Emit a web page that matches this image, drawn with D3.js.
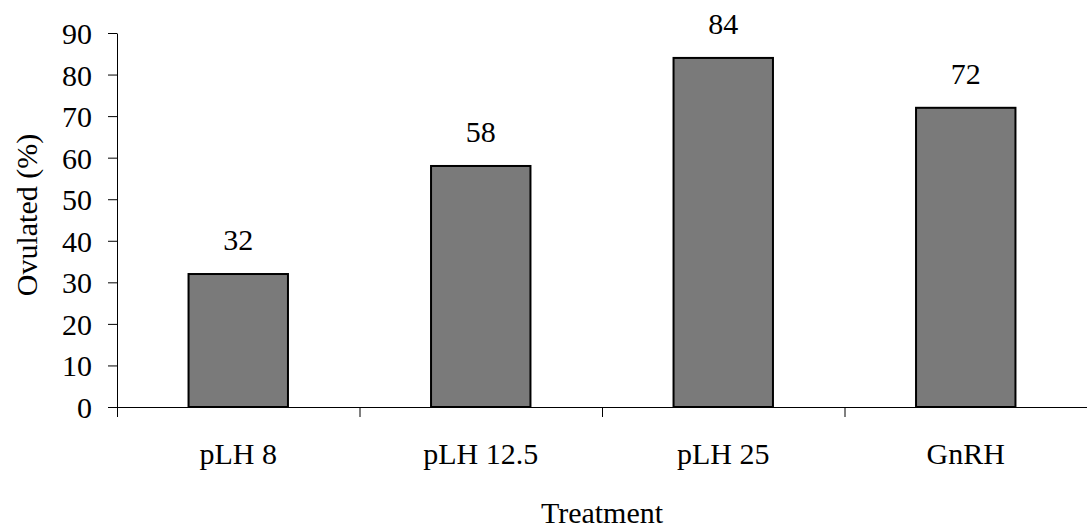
<!DOCTYPE html>
<html lang="en">
<head>
<meta charset="utf-8">
<title>Ovulated (%) by treatment</title>
<script src="https://cdn.jsdelivr.net/npm/d3@7"></script>
<style>
    body { margin: 0; background: #fff; }
    svg text { font-family: "Liberation Serif", "Times New Roman", serif; fill: #000; }
</style>
</head>
<body>
<div id="chart"></div>
<script>
// data
var categories = ["pLH 8", "pLH 12.5", "pLH 25", "GnRH"];
var ovulated = [32, 58, 84, 72];
var yTicks = [0, 10, 20, 30, 40, 50, 60, 70, 80, 90];

var w = 1087, h = 531;
var plotLeft = 117, plotRight = 1087, plotTop = 33, plotBottom = 407;
var serif = "'Liberation Serif', 'Times New Roman', serif";

var svg = d3.select("#chart").append("svg")
    .attr("width", w)
    .attr("height", h)
    .attr("font-family", serif);

var x = d3.scaleBand()
    .domain(categories)
    .range([plotLeft, plotRight])
    .paddingInner(0.59)
    .paddingOuter(0.295);

var y = d3.scaleLinear()
    .domain([0, 90])
    .range([plotBottom, plotTop]);

// bars
svg.selectAll("rect.bar")
    .data(ovulated)
    .enter().append("rect")
    .attr("class", "bar")
    .attr("x", function(d, i) { return x(categories[i]); })
    .attr("y", function(d) { return y(d); })
    .attr("width", x.bandwidth())
    .attr("height", function(d) { return y(0) - y(d); })
    .attr("fill", "#7a7a7a")
    .attr("stroke", "#000")
    .attr("stroke-width", 2);

// value labels
svg.selectAll("text.val")
    .data(ovulated)
    .enter().append("text")
    .attr("class", "val")
    .attr("x", function(d, i) { return x(categories[i]) + x.bandwidth() / 2; })
    .attr("y", function(d) { return y(d) - 24; })
    .attr("text-anchor", "middle")
    .style("font-size", "30px")
    .text(function(d) { return d; });

// y axis
var yAxis = svg.append("g")
    .attr("transform", "translate(" + plotLeft + ",0)")
    .call(d3.axisLeft(y).tickValues(yTicks).tickSize(9).tickPadding(16).tickSizeOuter(0));
yAxis.attr("font-family", serif);
yAxis.selectAll("text").style("font-size", "30px").attr("dy", "0.35em");
yAxis.selectAll("line, path").attr("stroke", "#000");

// x axis: labels under the bars, ticks between categories
var xAxis = svg.append("g")
    .attr("transform", "translate(0," + plotBottom + ")")
    .call(d3.axisBottom(x).tickSize(0).tickPadding(36).tickSizeOuter(0));
xAxis.attr("font-family", serif);
xAxis.select("path.domain").remove();
xAxis.selectAll("text").style("font-size", "30px");

var edges = d3.scaleLinear().domain([0, categories.length]).range([plotLeft, plotRight]);
var xTicks = svg.append("g")
    .attr("transform", "translate(0," + plotBottom + ")")
    .call(d3.axisBottom(edges).tickValues(d3.range(categories.length + 1)).tickFormat("").tickSize(10).tickSizeOuter(0));
xTicks.select("path.domain").attr("d", "M" + (plotLeft - 9) + ",0.5H" + plotRight);
xTicks.selectAll("line, path").attr("stroke", "#000");

// axis titles
svg.append("text")
    .attr("x", (plotLeft + plotRight) / 2)
    .attr("y", 523)
    .attr("text-anchor", "middle")
    .style("font-size", "30px")
    .text("Treatment");

svg.append("text")
    .attr("transform", "translate(37,215) rotate(-90)")
    .attr("text-anchor", "middle")
    .style("font-size", "30px")
    .text("Ovulated (%)");
</script>
</body>
</html>
